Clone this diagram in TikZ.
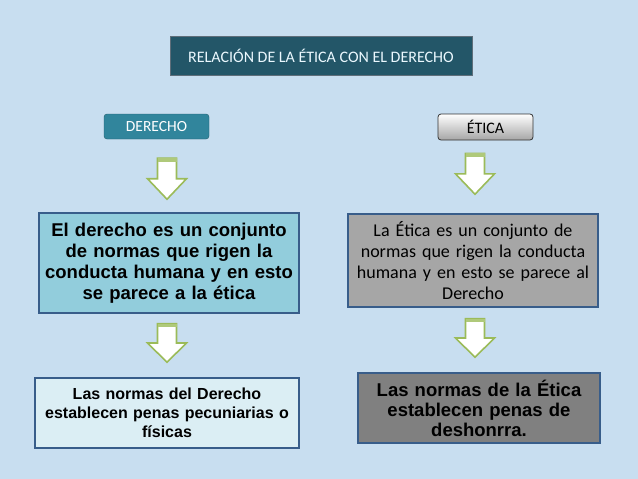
\documentclass[tikz,border=0pt]{standalone}
\usepackage{fontspec}
\setmainfont{Carlito}
\newfontfamily\calibrifont{Carlito}[WordSpace=0.8]
\newfontfamily\arialfont{Liberation Sans}
\usetikzlibrary{calc}

\definecolor{fondo}{RGB}{200,222,240}
\definecolor{titulo}{RGB}{35,86,104}
\definecolor{tituloborde}{RGB}{95,110,122}
\definecolor{derechoazul}{RGB}{49,133,156}
\definecolor{bordeazul}{RGB}{56,93,138}
\definecolor{celeste}{RGB}{146,205,220}
\definecolor{celesteclaro}{RGB}{219,238,244}
\definecolor{grisclaro}{RGB}{166,166,166}
\definecolor{grisoscuro}{RGB}{128,128,128}
\definecolor{verde}{RGB}{155,187,89}

% block arrow: #1 top of the shaft, #2 tip
\newcommand{\flecha}[2]{%
	\path let \p1=#1, \p2=#2 in
		coordinate (ft) at (\x1,\y1)
		coordinate (fp) at (\x2,\y2);
	\draw[verde, fill=white, line width=1.6pt, line join=miter]
		let \p1=(ft), \p2=(fp), \n1={(\y1-\y2)*0.5} in
		(\x1-9.5pt,\y1) -- (\x1+9.5pt,\y1) -- (\x1+9.5pt,\y2+\n1)
		-- (\x1+19.5pt,\y2+\n1) -- (\x2,\y2) -- (\x1-19.5pt,\y2+\n1)
		-- (\x1-9.5pt,\y2+\n1) -- cycle;
	\fill[verde!80!white] let \p1=(ft) in
		(\x1-9.5pt,\y1) rectangle (\x1+9.5pt,\y1-3.5pt);
}

\begin{document}
\begin{tikzpicture}[x=1pt, y=-1pt,
	caja/.style={draw=bordeazul, line width=1.5pt, align=center, inner sep=1pt},
	negrita/.style 2 args={font=\arialfont\bfseries\fontsize{#1}{#2}\selectfont}]

	\fill[fondo] (0,0) rectangle (638,479);

	\node[fill=titulo, draw=tituloborde, line width=1pt, text=white!92!cyan,
		minimum width=302, minimum height=39,
		font=\fontsize{16}{19}\selectfont] (title) at (321,55.5)
		{RELACIÓN DE LA ÉTICA CON EL DERECHO};

	\node[fill=derechoazul, draw=derechoazul!70!black, rounded corners=3pt,
		text=white, minimum width=105, minimum height=25, inner sep=1pt,
		font=\fontsize{15.5}{17}\selectfont] (derecho) at (156.5,126.5) {DERECHO};
	\node[top color=white, bottom color=black!35, draw=black!80, line width=0.8pt,
		rounded corners=3pt, minimum width=95, minimum height=26, inner sep=1pt,
		font=\fontsize{16}{17}\selectfont] (etica) at (485.5,127) {ÉTICA};

	\node[caja, fill=celeste, minimum width=260, minimum height=100, text width=258,
		negrita={18.5}{21}] (derdef) at (169,263)
		{El derecho es un conjunto\\de normas que rigen la\\conducta humana y en esto\\se parece a la ética};
	\node[caja, fill=grisclaro, minimum width=250, minimum height=93, text width=248,
		font=\calibrifont\fontsize{18}{21}\selectfont] (etidef) at (473,260.5)
		{La Ética es un conjunto de\\normas que rigen la conducta\\humana y en esto se parece al\\Derecho};

	\node[caja, fill=celesteclaro, minimum width=264, minimum height=70, text width=262,
		negrita={16}{19}] (derpena) at (167,413)
		{Las normas del Derecho\\establecen penas pecuniarias o\\físicas};
	\node[caja, fill=grisoscuro, minimum width=242, minimum height=70, text width=240,
		negrita={18.5}{20}] (etipena) at (479,408)
		{Las normas de la Ética\\establecen penas de\\deshonrra.};

	\flecha{($(derdef.north |- derecho.south)+(-2,19)$)}{($(derdef.north)+(-2,-13)$)}
	\flecha{($(etidef.north |- etica.south)+(2,13)$)}{($(etidef.north)+(2,-19)$)}
	\flecha{($(derdef.south)+(-2,10)$)}{($(derpena.north)+(0,-15)$)}
	\flecha{($(etidef.south)+(2,11)$)}{($(etipena.north)+(-4,-15)$)}
\end{tikzpicture}
\end{document}
